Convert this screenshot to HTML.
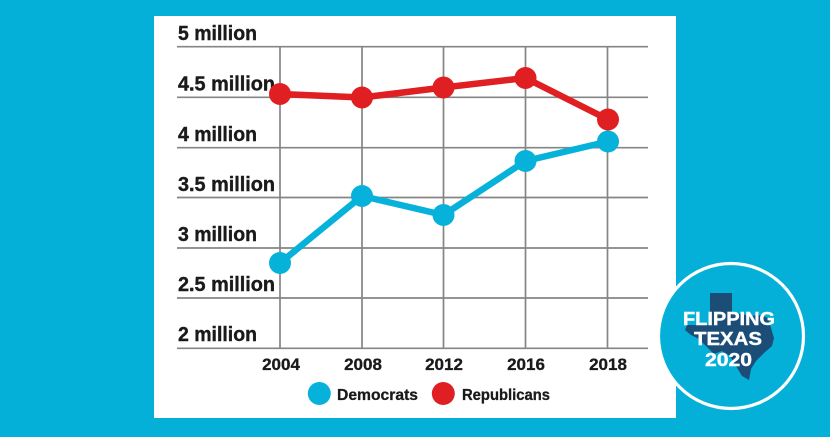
<!DOCTYPE html>
<html><head><meta charset="utf-8"><style>
html,body{margin:0;padding:0;width:830px;height:437px;overflow:hidden;background:#04b0d8;}
svg{display:block;}
text{font-family:"Liberation Sans",Arial,sans-serif;font-weight:bold;}
</style></head><body>
<svg width="830" height="437" viewBox="0 0 830 437" xmlns="http://www.w3.org/2000/svg">
<rect x="0" y="0" width="830" height="437" fill="#04b0d8"/>
<rect x="154" y="16" width="522" height="402" fill="#ffffff"/>
<g stroke="#858585" stroke-width="1.7" fill="none">
<line x1="177" y1="46.7" x2="648" y2="46.7"/>
<line x1="177" y1="97.3" x2="648" y2="97.3"/>
<line x1="177" y1="147.7" x2="648" y2="147.7"/>
<line x1="177" y1="197.5" x2="648" y2="197.5"/>
<line x1="177" y1="248" x2="648" y2="248"/>
<line x1="177" y1="298" x2="648" y2="298"/>
<line x1="177" y1="348.3" x2="648" y2="348.3"/>
<line x1="280" y1="46.7" x2="280" y2="348.3"/>
<line x1="362" y1="46.7" x2="362" y2="348.3"/>
<line x1="443.5" y1="46.7" x2="443.5" y2="348.3"/>
<line x1="525.5" y1="46.7" x2="525.5" y2="348.3"/>
<line x1="607.5" y1="46.7" x2="607.5" y2="348.3"/>
</g>
<g fill="#1a1a1a" stroke="#1a1a1a" stroke-width="0.4" font-size="20">
<text x="178" y="40" textLength="79" lengthAdjust="spacingAndGlyphs">5 million</text>
<text x="178" y="90.5" textLength="97" lengthAdjust="spacingAndGlyphs">4.5 million</text>
<text x="178" y="141" textLength="79" lengthAdjust="spacingAndGlyphs">4 million</text>
<text x="178" y="191" textLength="97" lengthAdjust="spacingAndGlyphs">3.5 million</text>
<text x="178" y="241" textLength="79" lengthAdjust="spacingAndGlyphs">3 million</text>
<text x="178" y="291" textLength="97" lengthAdjust="spacingAndGlyphs">2.5 million</text>
<text x="178" y="341" textLength="79" lengthAdjust="spacingAndGlyphs">2 million</text>
</g>
<g fill="#1a1a1a" stroke="#1a1a1a" stroke-width="0.3" font-size="17" text-anchor="middle">
<text x="281" y="370">2004</text>
<text x="363" y="370">2008</text>
<text x="444" y="370">2012</text>
<text x="526" y="370">2016</text>
<text x="608" y="370">2018</text>
</g>
<polyline points="280,94 362,97.5 443.5,87.5 525.5,78 608,119.5" fill="none" stroke="#df1f22" stroke-width="6.5" stroke-linejoin="round"/>
<g fill="#df1f22">
<circle cx="280" cy="94" r="11"/>
<circle cx="362" cy="97.5" r="11"/>
<circle cx="443.5" cy="87.5" r="11"/>
<circle cx="525.5" cy="78" r="11"/>
<circle cx="608" cy="119.5" r="11"/>
</g>
<polyline points="280,263 362,196 443.5,215 525.5,161 608,141.5" fill="none" stroke="#07b2da" stroke-width="6.5" stroke-linejoin="round"/>
<g fill="#07b2da">
<circle cx="280" cy="263" r="11"/>
<circle cx="362" cy="196" r="11"/>
<circle cx="443.5" cy="215" r="11"/>
<circle cx="525.5" cy="161" r="11"/>
<circle cx="608" cy="141.5" r="11"/>
</g>
<circle cx="319.3" cy="393.5" r="11.5" fill="#07b2da"/>
<circle cx="443.3" cy="393.5" r="11.5" fill="#df1f22"/>
<g fill="#1a1a1a" stroke="#1a1a1a" stroke-width="0.3" font-size="16">
<text x="337" y="400" textLength="81" lengthAdjust="spacingAndGlyphs">Democrats</text>
<text x="462" y="400" textLength="88" lengthAdjust="spacingAndGlyphs">Republicans</text>
</g>
<circle cx="731" cy="336" r="72.5" fill="#04b0d8" stroke="#ffffff" stroke-width="3.2"/>
<path d="M710,293 L732,293 L732,312 L740,314 L750,316 L760,315 L768,318 L771,328 L774,338 L772,346 L764,353 L756,361 L751,369 L749,380 L742,376 L736,366 L730,356 L722,351 L714,354 L707,347 L699,339 L691,335 L685,330 L687,325 L710,325 Z" fill="#1b4d77"/>
<g fill="#ffffff" stroke="#ffffff" stroke-width="0.4" font-size="18.5" text-anchor="middle">
<text x="729" y="325" textLength="92" lengthAdjust="spacingAndGlyphs">FLIPPING</text>
<text x="728" y="345" textLength="68" lengthAdjust="spacingAndGlyphs">TEXAS</text>
<text x="728.5" y="366" textLength="47" lengthAdjust="spacingAndGlyphs">2020</text>
</g>
</svg>
</body></html>
